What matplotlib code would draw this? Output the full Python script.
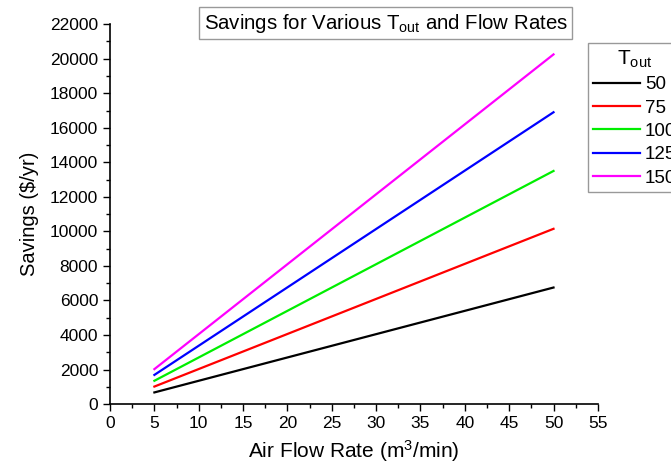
import numpy as np
import matplotlib
matplotlib.use('Agg')
import matplotlib.pyplot as plt
from matplotlib.ticker import MultipleLocator

plt.rcParams['font.family'] = ['Liberation Sans', 'DejaVu Sans']
plt.rcParams['mathtext.fontset'] = 'custom'
plt.rcParams['mathtext.rm'] = 'Liberation Sans'
plt.rcParams['mathtext.it'] = 'Liberation Sans:italic'

# data
flow = [5, 50]
tout_labels = ['50', '75', '100', '125', '150']
sav_50 = [675, 6750]
sav_75 = [1015, 10150]
sav_100 = [1350, 13500]
sav_125 = [1690, 16900]
sav_150 = [2025, 20250]
colors = ['black', '#ff0000', '#00ee00', '#0000ff', '#ff00ff']

fig = plt.figure(figsize=(6.71, 4.65), dpi=100)
ax = fig.add_axes([0.164, 0.131, 0.727, 0.817])

series = [sav_50, sav_75, sav_100, sav_125, sav_150]
for s, lab, c in zip(series, tout_labels, colors):
    ax.plot(flow, s, color=c, lw=1.6, label=lab)

ax.set_xlim(0, 55)
ax.set_ylim(0, 22000)
ax.xaxis.set_major_locator(MultipleLocator(5))
ax.xaxis.set_minor_locator(MultipleLocator(2.5))
ax.yaxis.set_major_locator(MultipleLocator(2000))
ax.yaxis.set_minor_locator(MultipleLocator(1000))
ax.tick_params(which='major', direction='out', length=5, width=1, labelsize=12.5)
ax.tick_params(which='minor', direction='out', length=3, width=1)
ax.spines['top'].set_visible(False)
ax.spines['right'].set_visible(False)
for sp in ['left', 'bottom']:
    ax.spines[sp].set_linewidth(1.2)

ax.set_xlabel(r'Air Flow Rate (m$\mathregular{^3}$/min)', fontsize=15, labelpad=5)
ax.set_ylabel('Savings ($/yr)', fontsize=14.5, labelpad=8)

fig.text(0.5745, 0.9505, r'Savings for Various T$\mathregular{_{out}}$ and Flow Rates',
         ha='center', va='center', fontsize=14.7,
         bbox=dict(boxstyle='square,pad=0.2', fc='white', ec='#999999', lw=1))

leg = ax.legend(title=r'T$\mathregular{_{out}}$', loc='upper left',
                bbox_to_anchor=(0.876, 0.9075), bbox_transform=fig.transFigure,
                borderaxespad=0,
                fontsize=13.5, title_fontsize=15, fancybox=False, framealpha=1,
                edgecolor='#999999', handlelength=2.5, handletextpad=0.25,
                labelspacing=0.33, borderpad=0.3)
leg.get_frame().set_linewidth(1)

fig.savefig('out.png', dpi=100)
